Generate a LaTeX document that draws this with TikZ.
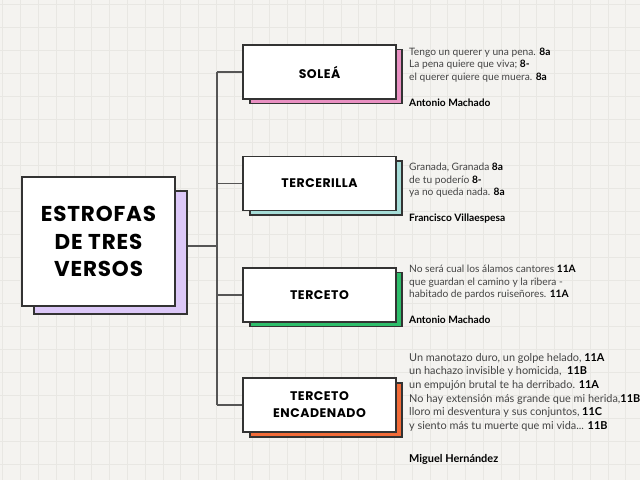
\documentclass[tikz,border=0pt]{standalone}
\usepackage{fontspec}
\setmainfont{Lato}
\newfontfamily\titlefont{Poppins}[LetterSpace=4]
\definecolor{bg}{HTML}{F4F3F0}
\definecolor{gridc}{HTML}{E8E7E3}
\definecolor{boxline}{HTML}{333333}
\definecolor{linec}{HTML}{555555}
\definecolor{versec}{HTML}{444444}
\definecolor{purp}{HTML}{DCC8F8}
\definecolor{pinkc}{HTML}{E990C2}
\definecolor{tealc}{HTML}{A6DDD8}
\definecolor{greenc}{HTML}{2EBE6B}
\definecolor{orangec}{HTML}{F26B38}
\tikzset{
  box/.style={draw=boxline, line width=1.2pt, fill=white, minimum width=153pt, minimum height=54pt, inner sep=0pt, align=center, font=\titlefont\bfseries\fontsize{12.5}{17}\selectfont},
  shadowbox/.style={draw=boxline, line width=1.2pt, minimum width=152pt, minimum height=54pt, inner sep=0pt},
  conn/.style={draw=linec, line width=1.1pt},
  verse/.style={anchor=north west, align=left, inner sep=0pt, text=versec, font=\fontsize{10.2}{12.3}\selectfont},
  versebig/.style={verse, font=\fontsize{10.9}{13.6}\selectfont}
}
\newcommand{\mb}[1]{\textbf{\textcolor{black}{#1}}}
\begin{document}
\begin{tikzpicture}[x=1pt,y=-1pt]
\useasboundingbox (0,0) rectangle (640,480);
\fill[bg] (0,0) rectangle (640,480);
\foreach \i in {0,...,36} \draw[gridc, line width=0.6pt] (2.7+17.8*\i,0) -- (2.7+17.8*\i,480);
\foreach \j in {0,...,21} \draw[gridc, line width=0.6pt] (0,4+23*\j) -- (640,4+23*\j);

% main
\node[shadowbox, fill=purp, minimum width=153pt, minimum height=123pt] (mainsh) at (110.5,252.5) {};
\node[box, minimum width=153pt, minimum height=129pt, font=\titlefont\bfseries\fontsize{21.5}{27.5}\selectfont] (main) at (98.5,241.5) {ESTROFAS\\DE TRES\\VERSOS};

% shadows
\node[shadowbox, fill=pinkc] (s1sh) at (326,76.5) {};
\node[shadowbox, fill=tealc] (s2sh) at (326,188) {};
\node[shadowbox, fill=greenc] (s3sh) at (326,299.5) {};
\node[shadowbox, fill=orangec] (s4sh) at (326,410) {};
% boxes
\node[box] (s1) at (319.5,72) {SOLEÁ};
\node[box] (s2) at (319.5,183.5) {TERCERILLA};
\node[box] (s3) at (319.5,295) {TERCETO};
\node[box] (s4) at (319.5,405) {TERCETO\\ENCADENADO};

% connectors
\coordinate (j) at (217,246);
\draw[conn] (mainsh.east |- j) -- (j);
\draw[conn] (j |- s1.west) -- (j |- s4.west);
\foreach \n in {s1,s2,s3,s4} \draw[conn] (j |- \n.west) -- (\n.west);

% verses
\node[verse] (v1) at (409,48) {Tengo un querer y una pena. \mb{8a}\\La pena quiere que viva; \mb{8-}\\el querer quiere que muera. \mb{8a}\\[14pt]\mb{Antonio Machado}};
\node[verse] (v2) at (409,163) {Granada, Granada \mb{8a}\\de tu poderío \mb{8-}\\ya no queda nada. \mb{8a}\\[14pt]\mb{Francisco Villaespesa}};
\node[verse] (v3) at (409,265) {No será cual los álamos cantores \mb{11A}\\que guardan el camino y la ribera -\\habitado de pardos ruiseñores. \mb{11A}\\[14pt]\mb{Antonio Machado}};
\node[versebig] (v4) at (409,353) {Un manotazo duro, un golpe helado, \mb{11A}\\un hachazo invisible y homicida,\ \ \mb{11B}\\un empujón brutal te ha derribado. \mb{11A}\\No hay extensión más grande que mi herida,\mb{11B}\\lloro mi desventura y sus conjuntos, \mb{11C}\\y siento más tu muerte que mi vida... \mb{11B}\\[20pt]\mb{Miguel Hernández}};
\end{tikzpicture}
\end{document}
